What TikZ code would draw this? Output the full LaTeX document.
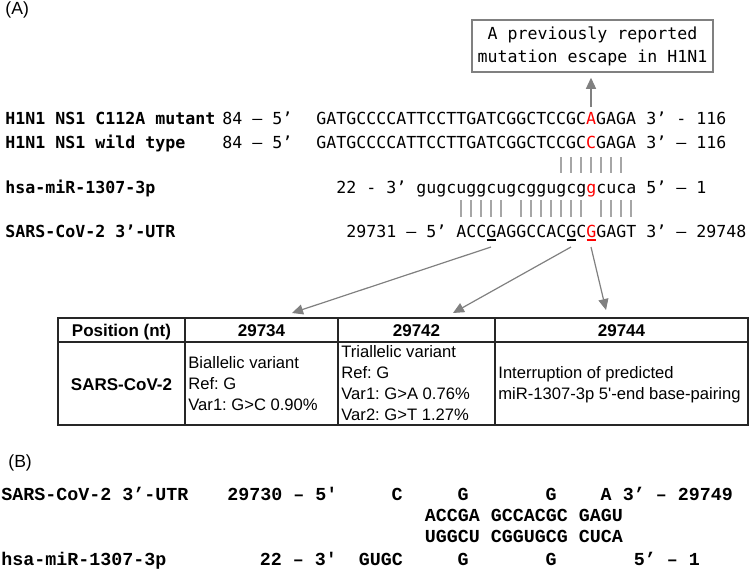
\documentclass[tikz,border=0pt]{standalone}
\usepackage{fontspec}
\setmainfont{Liberation Sans}[Ligatures=TeXOff]
\newfontfamily\seqfont{DejaVu Sans Mono}[Ligatures=TeXOff]
\newfontfamily\courfont{Liberation Mono}[Ligatures=TeXOff]
\usetikzlibrary{arrows.meta}
\definecolor{pairgray}{HTML}{A6A6A6}
\definecolor{arrgray}{HTML}{808080}
\definecolor{mutred}{HTML}{FF0000}
\begin{document}
\frenchspacing
\begin{tikzpicture}[x=0.5pt,y=-0.5pt,
  every node/.style={inner sep=0pt},
  seq/.style={anchor=base west,font=\seqfont\fontsize{8.3}{10}\selectfont},
  seqlabel/.style={anchor=base west,font=\seqfont\bfseries\fontsize{8.3}{10}\selectfont},
  bmono/.style={anchor=base west,font=\courfont\bfseries\fontsize{9.165}{11}\selectfont},
  cell/.style={font=\fontsize{8.3}{10.5}\selectfont,align=left,anchor=west},
  headcell/.style={font=\bfseries\fontsize{8.5}{10.5}\selectfont,anchor=base},
  panel/.style={anchor=base west,font=\fontsize{8.8}{11}\selectfont},
  bar/.style={pairgray,line width=1pt},
  tab/.style={black!85,line width=0.65pt},
  arr/.style={arrgray,line width=0.6pt,-{Triangle[length=5.5pt,width=5pt]}}]
  \useasboundingbox (0,0) rectangle (750,573);

  \node[panel] (pA) at (5,14) {(A)};

  \node[draw=arrgray,line width=0.75pt,minimum width=120.5pt,minimum height=26pt,
    align=center,font=\seqfont\fontsize{8.3}{11.5}\selectfont] (note) at (592.5,46)
    {A previously reported\\mutation escape in H1N1};

  \node[seqlabel] (mutL) at (5,124) {H1N1 NS1 C112A mutant};
  \node[seq] (mutP) at (222,124) {84 – 5’};
  \node[seq] (mutS) at (316,124) {GATGCCCCATTCCTTGATCGGCTCCGC\textcolor{mutred}{A}GAGA};
  \node[seq] (mutE) at (646,124) {3’ - 116};

  \node[seqlabel] (wtL) at (5,148) {H1N1 NS1 wild type};
  \node[seq] (wtP) at (222,148) {84 – 5’};
  \node[seq] (wtS) at (316,148) {GATGCCCCATTCCTTGATCGGCTCCGC\textcolor{mutred}{C}GAGA};
  \node[seq] (wtE) at (646,148) {3’ – 116};

  \node[seqlabel] (mirL) at (5,193) {hsa-miR-1307-3p};
  \node[seq] (mirP) at (336,193) {22 - 3’};
  \node[seq] (mirS) at (416,193) {gugcuggcugcggugcg\textcolor{mutred}{g}cuca};
  \node[seq] (mirE) at (646,193) {5’ – 1};

  \node[seqlabel] (utrL) at (5,237) {SARS-CoV-2 3’-UTR};
  \node[seq] (utrP) at (346,237) {29731 – 5’};
  \node[seq] (utrS) at (456,237) {ACCGAGGCCACGC\textcolor{mutred}{G}GAGT};
  \node[seq] (utrE) at (646,237) {3’ – 29748};

  \foreach \i in {14,...,20}
    \draw[bar] ({421+10*\i},157) -- ({421+10*\i},173);
  \foreach \i in {0,...,4,6,7,...,12,14,15,16,17}
    \draw[bar] ({461+10*\i},200) -- ({461+10*\i},217);

  \foreach \i in {3,11}
    \draw[line width=0.7pt] ({461+10*\i-4.5},240) -- ({461+10*\i+4.5},240);
  \draw[mutred,line width=0.7pt] (586.5,240) -- (595.5,240);

  \coordinate (mutA) at (591,107);
  \draw[arr,shorten >=2.5pt] (mutA) -- (mutA |- note.south);

  \coordinate (v1) at (491,247);
  \coordinate (v2) at (571,247);
  \coordinate (v3) at (591,247);
  \coordinate (t1) at (292,313);
  \coordinate (t2) at (453,313);
  \coordinate (t3) at (606,310);
  \draw[arr] (v1) -- (t1);
  \draw[arr] (v2) -- (t2);
  \draw[arr] (v3) -- (t3);

  \draw[tab] (58,318) rectangle (748,425);
  \draw[tab] (58,342) -- (748,342);
  \foreach \x in {185,338,495}
    \draw[tab] (\x,318) -- (\x,425);

  \node[headcell] (hPos) at (121.5,336) {Position (nt)};
  \node[headcell] (h34) at (261.5,336) {29734};
  \node[headcell] (h42) at (416.5,336) {29742};
  \node[headcell] (h44) at (621.5,336) {29744};
  \node[headcell] (rName) at (121.5,390) {SARS-CoV-2};
  \node[cell] (c34) at (188,384) {Biallelic variant\\Ref: G\\Var1: G>C 0.90\%};
  \node[cell] (c42) at (341,383) {Triallelic variant\\Ref: G\\Var1: G>A 0.76\%\\Var2: G>T 1.27\%};
  \node[cell] (c44) at (498,385) {Interruption of predicted\\miR-1307-3p 5'-end base-pairing};

  \node[panel] (pB) at (8,467) {(B)};

  \node[bmono] (bUtrL) at (1,500) {SARS-CoV-2 3’-UTR};
  \node[bmono] (bUtrP) at (227,500) {29730 – 5'};
  \foreach \c/\b in {0/C,6/G,14/G,19/A}
    \node[bmono,anchor=base] (bU\c) at ({397+11*\c},500) {\b};
  \node[bmono] (bUtrE) at (622.5,500) {3’ – 29749};
  \node[bmono] (bPairU) at (424.5,521) {ACCGA GCCACGC GAGU};
  \node[bmono] (bPairM) at (424.5,542) {UGGCU CGGUGCG CUCA};
  \node[bmono] (bMirL) at (1,565) {hsa-miR-1307-3p};
  \node[bmono] (bMirP) at (259.5,565) {22 – 3'};
  \node[bmono] (bMirS) at (358.5,565) {GUGC};
  \foreach \c in {6,14}
    \node[bmono,anchor=base] (bM\c) at ({397+11*\c},565) {G};
  \node[bmono] (bMirE) at (633.5,565) {5’ – 1};
\end{tikzpicture}
\end{document}
